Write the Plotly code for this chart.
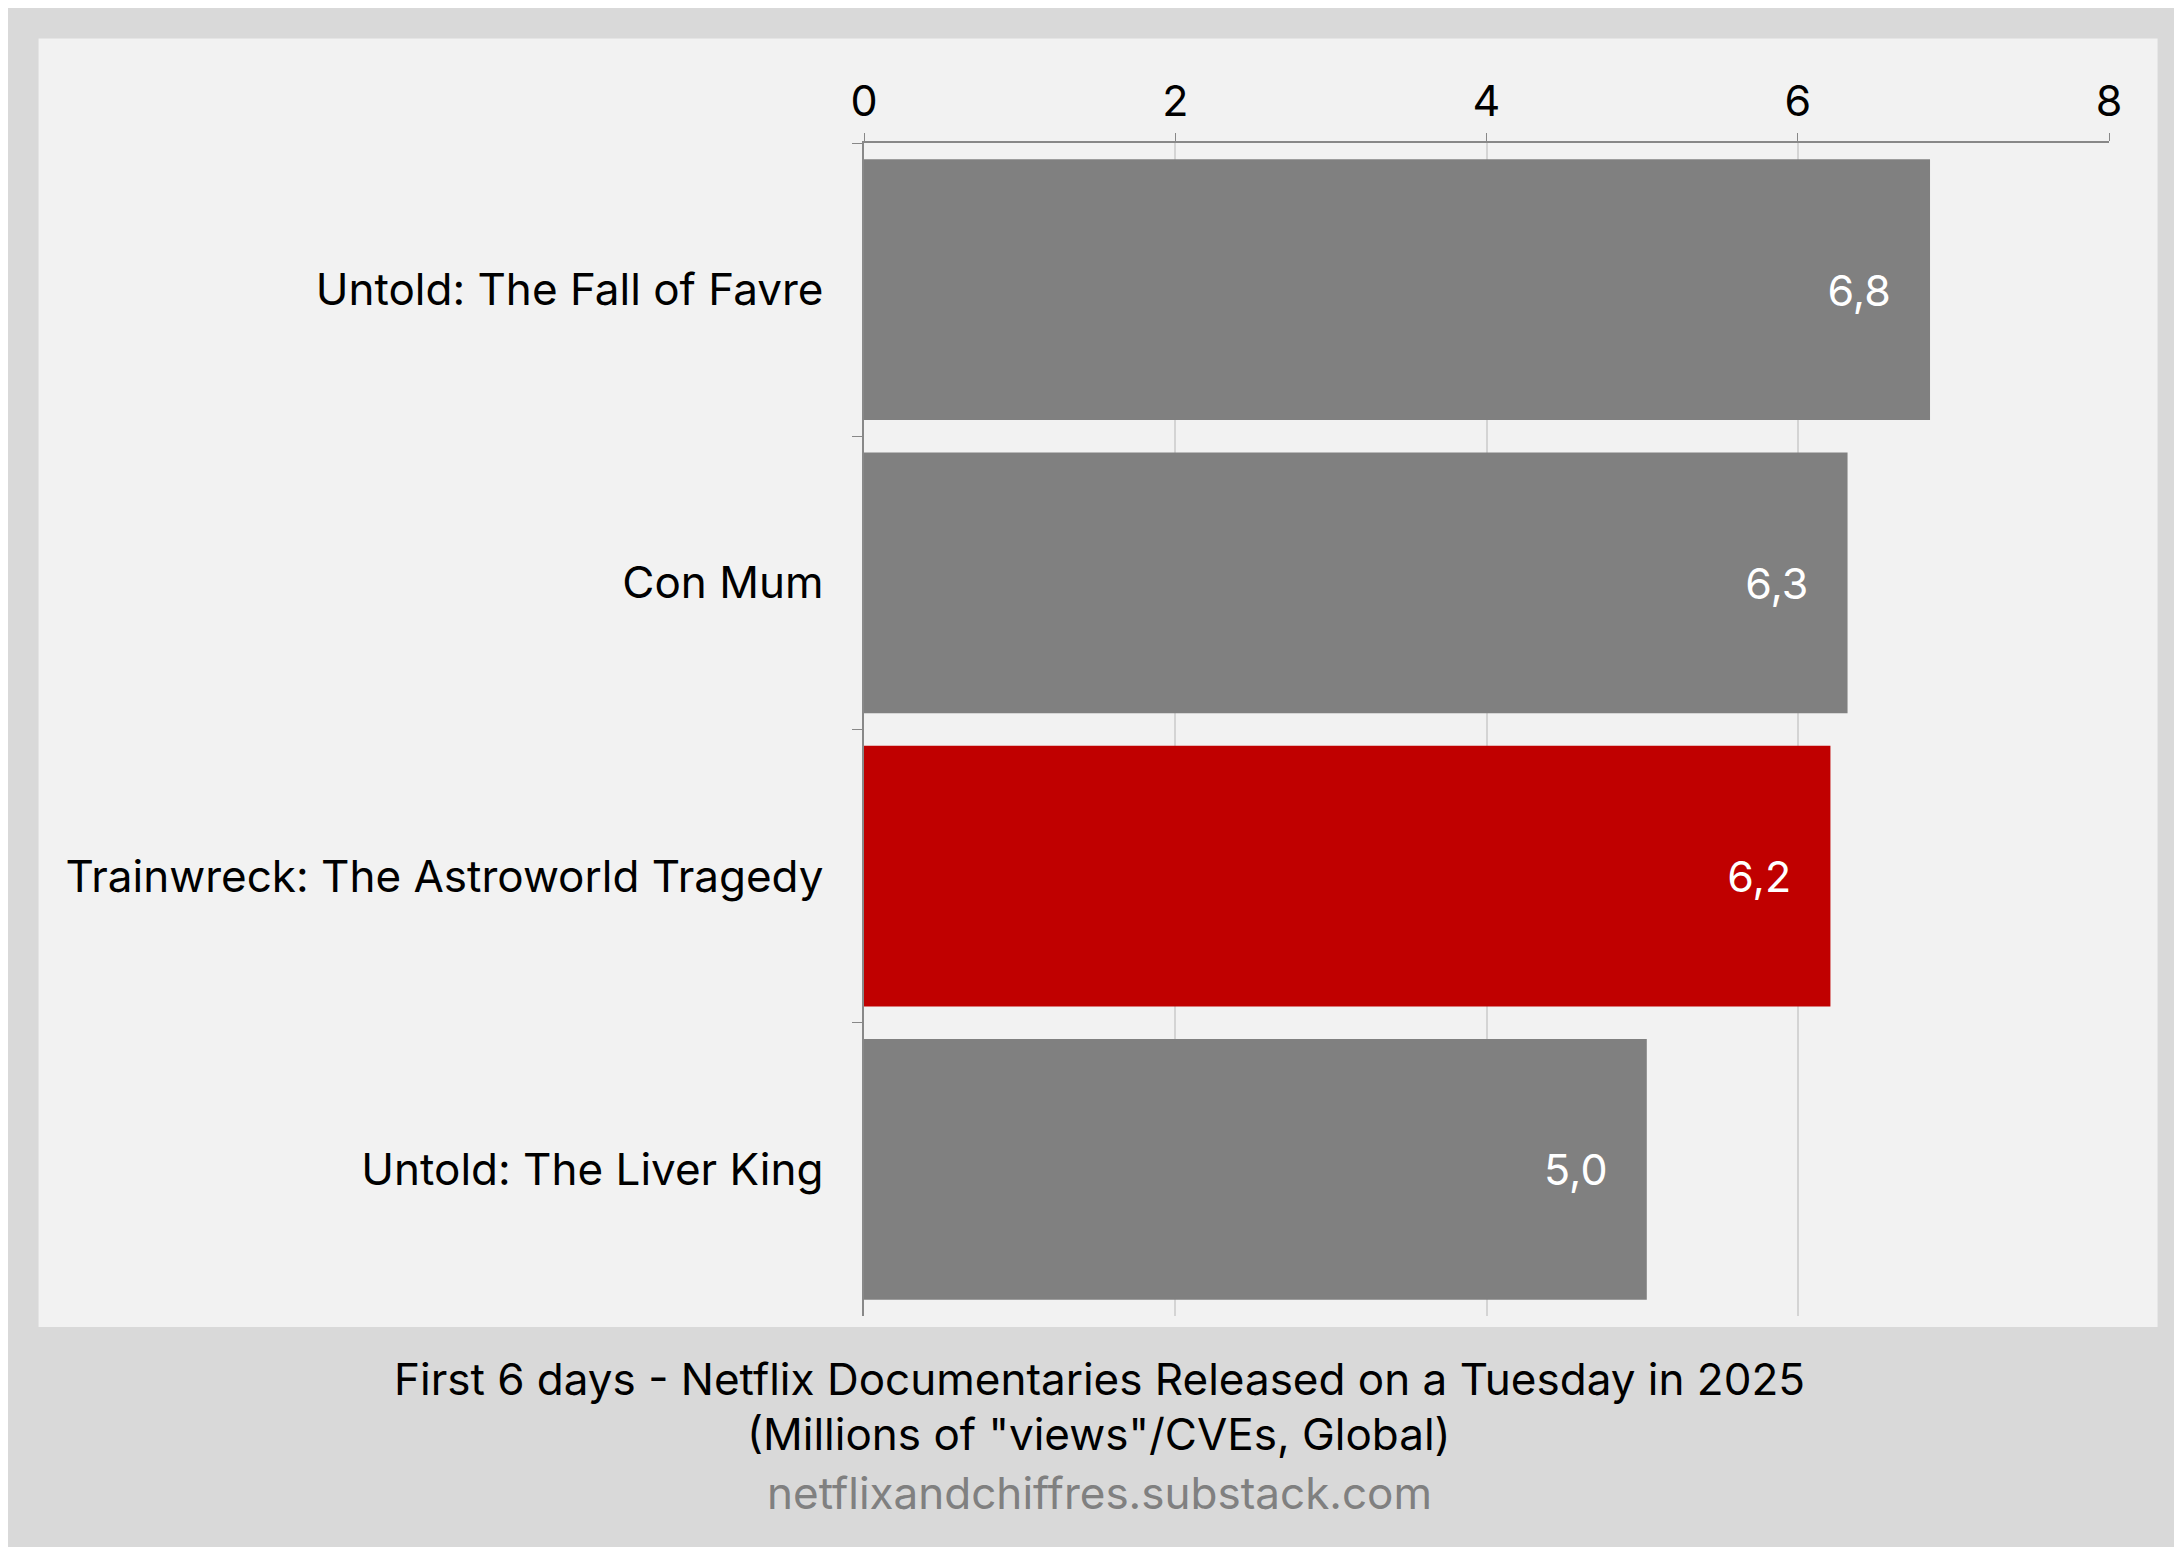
import plotly.graph_objects as go

titles = ["Untold: The Fall of Favre", "Con Mum", "Trainwreck: The Astroworld Tragedy", "Untold: The Liver King"]
views = [6.85, 6.32, 6.21, 5.03]
colors = ["#808080", "#808080", "#c00000", "#808080"]
labels = [f"{v:.1f}".replace(".", ",") + "\u00a0\u00a0\u00a0" for v in views]

fig = go.Figure(go.Bar(
    x=views, y=titles, orientation="h", marker_color=colors, marker_line_width=0,
    text=labels, textposition="inside", insidetextanchor="end",
    textfont=dict(color="white", size=43, family="Inter"), cliponaxis=False,
))
fig.add_shape(type="rect", xref="paper", yref="paper", x0=-0.663, x1=1.039, y0=-0.0094, y1=1.089,
              fillcolor="#f2f2f2", line_width=0, layer="below")
cx = (1091 - 856) / 1245
fig.update_layout(
    width=2182, height=1547, margin=dict(l=856, r=81, t=135, b=239),
    paper_bgcolor="#d9d9d9", plot_bgcolor="#f2f2f2", bargap=0.11, showlegend=False,
    font=dict(family="Inter", color="black"),
    xaxis=dict(side="top", range=[0, 8], dtick=2, showgrid=True, gridcolor="#d4d4d4", gridwidth=1.5,
               zeroline=False, showline=True, linecolor="#888", linewidth=1.5,
               ticks="outside", ticklen=8, tickcolor="#888", tickfont=dict(size=43)),
    yaxis=dict(autorange="reversed", showline=True, linecolor="#888", linewidth=1.5,
               ticks="outside", ticklen=10, tickcolor="#888", tickson="boundaries",
               ticklabelstandoff=30, tickfont=dict(size=44)),
    annotations=[
        dict(text="First 6 days - Netflix Documentaries Released on a Tuesday in 2025", x=cx, y=-0.054,
             xanchor="center", xref="paper", yref="paper", showarrow=False, font=dict(size=44), yanchor="middle"),
        dict(text='(Millions of "views"/CVEs, Global)', x=cx, y=-0.101, xanchor="center", xref="paper", yref="paper",
             showarrow=False, font=dict(size=44), yanchor="middle"),
        dict(text="netflixandchiffres.substack.com", x=cx, y=-0.151, xanchor="center", xref="paper", yref="paper",
             showarrow=False, font=dict(size=44, color="#808080"), yanchor="middle"),
    ],
)
fig.write_html("out.html")
